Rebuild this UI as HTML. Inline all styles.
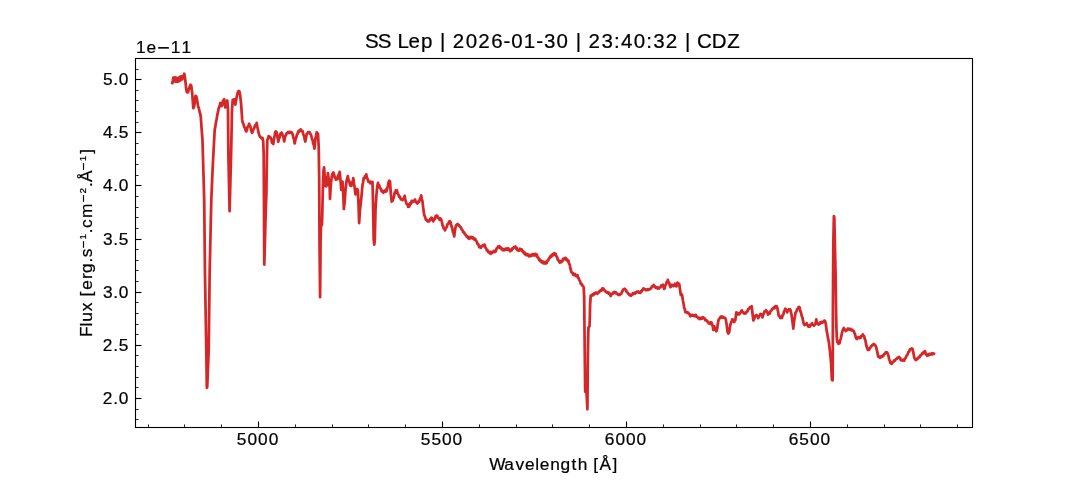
<!DOCTYPE html>
<html lang="en"><head><meta charset="utf-8"><title>SS Lep spectrum</title>
<style>
html,body{margin:0;padding:0;background:#ffffff;}
body{width:1080px;height:480px;overflow:hidden;}
svg{display:block;will-change:transform;}
text{font-family:"Liberation Sans",sans-serif;fill:#000000;stroke:#000000;stroke-width:0.22px;white-space:pre;}
</style></head><body>
<svg width="1080" height="480" viewBox="0 0 1080 480">
<rect x="0" y="0" width="1080" height="480" fill="#ffffff"/>
<!-- spectrum curve -->
<polyline fill="none" stroke="#d62728" stroke-width="2.75" stroke-linejoin="round" stroke-linecap="square" points="172.3,83 172.85,80.55 173.4,77.58 174.1,81.48 174.9,77.45 175.7,81.71 176.5,77.75 177.3,81.75 178.1,78.17 178.9,81.33 179.7,76.79 180.5,80.33 181.3,76.36 182.1,79.44 182.9,75.85 183.6,78.08 184.3,73.75 185.3,80.08 186.3,89.89 186.9,92.28 187.5,92.43 188.1,92.16 188.7,89.4 189.7,86.78 190.5,84.78 191.3,85.91 192.2,93.19 192.75,100.91 193.3,108.24 193.9,107.3 194.5,104.43 195.5,95.89 196.1,96.01 196.7,97.89 197.35,101.52 198,105.88 198.85,108.25 199.7,112.19 200.25,113.8 200.8,117.18 201.7,129.88 202.5,140.06 203.4,171.59 204.2,200.09 205,274.92 205.65,312.56 206.3,349.93 206.8,387.85 207.2,387.25 207.95,368.98 208.7,349.93 209.7,270.08 210.5,234.9 211.3,200.12 211.9,185.76 212.5,171.8 213.1,159.8 213.7,148.07 214.7,129.88 215.37,126.58 216.03,121.98 216.7,118.78 217.37,114.63 218.03,111.88 218.7,108.08 219.5,106.44 220.3,102.99 221,105.8 221.7,106.05 222.35,104.13 223,100.62 223.6,100.98 224.2,99.19 224.75,103.81 225.3,107.44 226.3,103.76 227.3,100.49 228,110.05 228.4,154.95 229,183.22 229.6,211.11 230.4,180.7 231.2,149.92 232,110.05 232.7,99.89 233.45,100.4 234.2,99.31 234.75,102.72 235.3,104.62 236.3,99.36 236.9,95.94 237.5,93.63 238.1,91.47 238.7,91.01 239.35,91.4 240,94.04 240.6,99.11 241.2,105.09 242.2,119.93 242.75,122.69 243.3,123.49 244.15,126.72 245,128.04 245.65,130.63 246.3,131.43 246.9,130.15 247.5,126.8 248.35,126.17 249.2,123.77 249.75,125.85 250.3,126.01 251.15,130.4 252,132.81 252.65,131.91 253.3,129.53 254.15,128.33 255,125.27 255.85,125.24 256.7,122.84 257.35,127.04 258,129.81 258.6,132.89 259.2,134.66 260,136.75 260.8,137.24 261.65,138.3 262.5,137.86 263.2,141.28 263.7,154.9 264.3,264.59 265.05,237.17 265.8,210.07 266.4,193.23 266.8,163.35 267.3,139.95 267.95,138.74 268.6,136.06 269.33,137.4 270.07,136.95 270.8,138.06 271.4,139.66 272,142.87 272.65,142.53 273.3,143.98 274,138.86 274.7,135.43 275.25,132.27 275.8,131.33 276.5,132.21 277.2,135.33 277.75,138.25 278.3,141.76 279,138.61 279.7,137.08 280.25,134.19 280.8,133.15 281.65,132.69 282.5,134.64 283.35,136.97 284.2,141.41 285,137.22 285.8,135.27 286.65,133.35 287.5,132.92 288.12,131.97 288.75,132.79 289.38,132.04 290,132.81 290.85,131.93 291.7,132.44 292.5,133.9 293.3,137.18 294,139.6 294.7,143.47 295.5,139.55 296.3,137.3 296.97,134.63 297.63,133.73 298.3,131.31 298.93,131.89 299.55,130.21 300.18,130.91 300.8,129.44 301.65,131.2 302.5,131.03 303.35,134.53 304.2,136.31 304.75,139.55 305.3,141.54 306,138.12 306.7,133.82 307.37,133.75 308.03,132.19 308.7,132.32 309.5,132.09 310.3,133.84 311.15,135.22 312,138.97 312.65,140.15 313.3,143.89 313.9,145.1 314.5,148.7 315.5,138.25 316.1,135.6 316.7,132.34 317.35,133.93 318,133.75 318.7,146.79 319.2,179.92 319.5,240.1 320.1,297.2 320.6,240.1 321,225.91 321.9,225.05 322.25,214.92 322.7,195.08 323.1,179.95 323.5,170.57 324.1,167.33 324.8,178.06 325.3,185.95 325.8,177.53 326.3,186.26 326.9,177.08 327.4,183.97 327.9,173.06 328.6,178.45 329.1,185.57 329.5,180.92 330,198.97 330.8,184.94 331.7,176.79 332.5,173.72 333.3,172.45 334,173.77 334.7,177.49 335.25,177.31 335.8,179.6 336.65,178.19 337.5,179.22 338.1,175.27 338.7,174.77 339.7,171.83 340.5,180.15 341.3,189.85 341.9,185.98 342.5,181.57 343.3,193.41 343.8,208.99 344.7,201.85 345.5,189.9 346.1,185.12 346.7,179.84 347.25,178.78 347.8,176.14 348.5,179.96 349.2,181.18 350,184.75 350.8,185.97 351.4,185.85 352,182.25 352.65,181.88 353.3,178.16 353.9,183.02 354.5,186.57 355.5,194.35 356.1,191.67 356.7,190.52 357.25,188.98 357.8,190.2 358.5,203.16 359.1,223.07 360,209.9 360.65,204.29 361.3,198.18 361.9,191.76 362.5,184.88 363.1,182.27 363.7,178.07 364.35,178.5 365,176.19 365.65,176.73 366.3,174.31 366.9,178.16 367.5,178.51 368.35,181.55 369.2,181.69 370,183.21 370.8,181.77 371.65,183.39 372.5,181.89 373,201.85 373.7,239.88 374.3,244.53 374.8,239.92 375.5,210.14 376.3,196.58 377.2,186.85 378,182.79 378.6,185.48 379.2,185.21 380,188.19 380.8,188.61 381.65,191.35 382.5,190.95 383.35,192.71 384.2,191.15 385,191.87 385.8,189.77 386.4,191.44 387,189.53 388,185.33 388.6,182.11 389.2,180.76 390,181.31 390.8,193.39 391.7,201.59 392.5,200.87 393.3,198.78 394,196.67 394.7,192.27 395.25,192.95 395.8,190.39 396.4,191.19 397,190.4 397.65,193.87 398.3,194.22 399.15,196.71 400,196.59 400.85,199.33 401.7,199.27 402.5,200.13 403.3,198.55 404,198.34 404.7,195.75 405.25,199.64 405.8,201.36 406.65,204.06 407.5,204.31 408.1,206.86 408.7,206.71 409.35,206.31 410,203.35 410.85,204 411.7,200.86 412.5,202.09 413.3,200.99 414.15,201.36 415,199.56 415.85,202.02 416.7,202.57 417.5,203.51 418.3,201.46 419.15,201.55 420,198.52 420.6,198.15 421.2,195.42 421.85,199.08 422.5,201.46 423.1,206.84 423.7,211.62 424.35,215.54 425,216.56 425.85,219.77 426.7,219.61 427.5,221.37 428.3,221.27 429.15,221.31 430,219.17 430.67,219.77 431.33,217.73 432,218.08 432.65,218.38 433.3,221.35 434.15,218.82 435,218.83 435.65,216.06 436.3,215.59 437.15,215.53 438,217.84 438.85,217.76 439.7,219.88 440.5,218.55 441.3,219.78 441.9,221.92 442.5,225.37 443.1,226.01 443.7,228.62 444.35,228.45 445,230.38 445.85,228.06 446.7,227.03 447.5,224.3 448.3,223.87 449.15,221.49 450,221.25 450.65,222.56 451.3,225.5 452.15,228 453,232.1 453.6,233.37 454.2,236.46 454.75,231.95 455.3,228.36 456,225.61 456.7,224.66 457.5,223.95 458.3,225.25 459.15,225.24 460,226.99 460.85,227.25 461.7,229.45 462.5,230.17 463.3,232.29 464.15,232.39 465,234.45 465.85,234.79 466.7,236.71 467.5,236.41 468.3,238.21 468.9,237.49 469.5,238.78 470.15,236.94 470.8,237.42 471.43,236.84 472.05,237.99 472.68,237.28 473.3,238.63 473.93,238.18 474.55,239.64 475.18,238.86 475.8,240.37 476.65,241.34 477.5,244.01 478.35,244.31 479.2,247.24 480,246.61 480.8,247.81 481.65,245.95 482.5,246.2 483.23,245.03 483.97,246.09 484.7,244.76 485.5,247.64 486.3,248.71 486.97,250.46 487.63,250.38 488.3,252.06 488.93,251.61 489.55,253.08 490.18,251.91 490.8,253.74 491.43,252.06 492.05,252.98 492.68,251.59 493.3,252.06 493.93,250.91 494.55,252.09 495.18,250.68 495.8,251.4 496.65,248.4 497.5,248.11 498.1,246.45 498.7,246.67 499.4,246.24 500.1,247.95 500.8,247.51 501.43,249.01 502.05,248.68 502.68,250.06 503.3,249.29 503.93,250.24 504.55,249.1 505.18,249.7 505.8,248.58 506.43,249.52 507.05,248.52 507.68,249.81 508.3,248.36 508.93,250.16 509.55,249.41 510.18,251.24 510.8,250.42 511.53,250.49 512.27,248.46 513,248.63 513.85,247.12 514.7,247.07 515.37,246.43 516.03,248.58 516.7,247.8 517.5,250.39 518.3,250.32 519.15,250.57 520,248.7 520.85,250.12 521.7,249.39 522.5,251.36 523.3,251.28 523.92,253.41 524.55,252.46 525.17,254.43 525.8,253.63 526.42,255.17 527.05,254.17 527.67,255.38 528.3,254.61 528.97,256.22 529.63,255.24 530.3,256.18 531.03,254.95 531.77,255.74 532.5,254.24 533.23,255.21 533.97,254.2 534.7,255.6 535.5,253.86 536.3,254.33 536.9,254.69 537.5,257.37 538.35,257.62 539.2,260.05 539.83,259.51 540.45,261.3 541.08,260.65 541.7,262.26 542.33,261.45 542.95,263.08 543.58,262.01 544.2,263.34 544.83,262.15 545.45,263.47 546.08,261.93 546.7,263.06 547.5,260.65 548.3,260.38 549.15,257.98 550,257.5 550.62,255.96 551.25,256.8 551.88,255.02 552.5,255.71 553.12,253.93 553.75,254.88 554.38,253.16 555,253.93 555.65,253.85 556.3,256.12 557.15,257.07 558,260.31 558.85,260.62 559.7,262.47 560.37,261.09 561.03,262.37 561.7,260.98 562.37,261.25 563.03,259.02 563.7,259.2 564.4,258.26 565.1,259.29 565.8,257.86 566.42,259.73 567.05,259.36 567.67,261.09 568.3,260.36 569,263.58 569.7,264.4 570.25,267.91 570.8,269.76 571.65,272.54 572.5,272.92 573.12,274.57 573.75,273.77 574.38,275.14 575,274.2 575.62,275.83 576.25,274.89 576.88,276.27 577.5,275.24 578.13,277.94 578.77,278.26 579.4,280.4 580.1,281.1 580.8,284.05 581.65,283.94 582.5,285.72 583.1,285.97 583.7,287.62 584.2,296.89 584.5,330.05 585.2,391.72 586.2,386.32 586.8,397.49 587.4,409.28 587.9,354.95 588.3,331.82 588.5,327.23 589.5,326.46 589.9,314.91 590.1,305.09 590.7,295.68 591.7,295.74 592.5,294.33 593.3,295.03 594,293.53 594.7,294.03 595.4,292.59 596.1,293.28 596.8,292.71 597.5,293.77 598.2,292.34 598.9,292.27 599.6,290.9 600.3,291.08 601,289.9 601.7,290.44 602.3,288.41 602.9,288.17 603.55,288.74 604.2,290.23 604.88,290.29 605.57,291.64 606.25,291.79 606.93,292.63 607.62,292.24 608.3,293.44 608.95,292.68 609.6,293.52 610.15,294.07 610.7,296.07 611.4,294.34 612.1,294.18 612.8,292.96 613.5,293.26 614.2,291.97 615,292.73 615.8,292.19 616.65,293.75 617.5,293.9 618.2,294.91 618.9,294.37 619.6,295.06 620.42,294.02 621.25,293.96 621.88,291.78 622.5,291.17 623.12,289.61 623.75,289.43 624.58,288.66 625.4,289.43 626.05,290.01 626.7,292 627.38,292.26 628.07,293.6 628.75,293.95 629.43,295.03 630.12,294.75 630.8,295.88 631.5,294.62 632.2,294.77 632.9,293.27 633.6,294.04 634.3,293.04 635,293.63 635.62,292.33 636.25,292.69 636.88,291.72 637.5,291.72 638.2,291.49 638.9,292.73 639.6,292.69 640.3,292.84 641,291.23 641.7,291.3 642.3,289.9 642.9,289.82 643.5,288.37 644.27,289.4 645.03,289.26 645.8,290.14 646.42,289.52 647.05,290.1 647.67,289.29 648.3,289.87 648.97,289.11 649.63,289.42 650.3,288.78 651.15,288.27 652,286.32 652.85,286.42 653.7,285.03 654.4,286.45 655.1,286.47 655.8,287.94 656.65,287.29 657.5,288.46 658.23,287.48 658.97,288.43 659.7,287.46 660.5,287.12 661.3,285.4 662.15,285.94 663,284.66 663.6,287.39 664.2,288.92 664.75,288.01 665.3,285.45 666,284.44 666.7,282.26 667.25,281.66 667.8,279.86 668.5,282.25 669.2,282.81 669.85,285.61 670.5,287.08 671.25,286.52 672,284.74 672.85,285.88 673.7,286.05 674.35,285.48 675,283.75 675.65,285.64 676.3,286.36 676.9,285.28 677.5,282.65 678.35,283.82 679.2,283.97 680,289.24 680.8,294.96 681.4,295.34 682,294.58 683,301 683.6,303.86 684.2,307.77 684.75,309.08 685.3,312.04 686.15,311.82 687,312.77 687.85,312.34 688.7,313.42 689.5,314.15 690.3,316.25 691.15,315.05 692,315.56 692.73,314.94 693.47,315.88 694.2,315.48 695,316.18 695.8,314.82 696.65,316.82 697.5,317.03 698.23,318.28 698.97,317.76 699.7,319.03 700.37,317.91 701.03,318.73 701.7,317.61 702.37,318.42 703.03,317.17 703.7,317.95 704.5,318.27 705.3,320.12 706.15,319.8 707,321.28 707.85,321.52 708.7,323.37 709.5,322.73 710.3,323.91 711,322.28 711.7,322.9 712.7,326.15 713.3,329.84 714.3,326.41 715.3,328.98 716.3,331.32 717.2,328.58 717.75,324.48 718.3,320.84 719.15,318.86 720,318.01 720.67,316.65 721.33,317.66 722,316.35 722.73,317.68 723.47,317.07 724.2,317.9 725,317.78 725.8,319.56 726.7,324.89 727.5,331.8 728.3,333.45 729.2,332.28 729.75,328.27 730.3,325.06 731,322.59 731.7,321.08 732.35,319.33 733,319.47 733.6,320.04 734.2,322.04 734.75,320.45 735.3,320.4 736.3,312.41 736.9,313.43 737.5,312.94 738.1,314.45 738.7,314.3 739.35,314.29 740,312.67 740.85,312.25 741.7,310.37 742.5,312.25 743.3,312.24 744.15,313.57 745,312.91 745.85,313.33 746.7,311.74 747.5,311.2 748.3,308.91 749.15,308.93 750,307.19 750.85,307.53 751.7,306.18 752.5,313.35 753.3,320.44 754.3,318.75 755.05,315.98 755.8,315.61 756.4,314.96 757,316.12 757.65,316.29 758.3,318.19 759,315.75 759.7,315.69 760.5,313.89 761.3,314.3 761.9,314.65 762.5,317.39 763.1,314.67 763.7,313.89 764.5,311.44 765.3,311.47 766,310.27 766.7,311.37 767.35,312.12 768,314.52 768.85,313.16 769.7,313.49 770.5,311.1 771.3,310.62 772.15,308.85 773,308.75 773.85,307.43 774.7,308.06 775.5,306.13 776.3,306.07 776.9,306.54 777.5,308.72 778.1,312.01 778.7,315.87 779.5,315.97 780.3,317.99 781.15,316.87 782,317.96 782.65,315.17 783.3,314.75 784,311.6 784.7,310.34 785.25,308.73 785.8,309.31 786.5,309.68 787.2,312.39 787.75,310.48 788.3,310.62 789,309.26 789.7,309.82 790.25,309.53 790.8,311.31 791.5,314.76 792.2,319.38 792.75,323.73 793.3,328.68 794.3,319.92 794.9,316.7 795.5,312.76 796.35,311.63 797.2,309.11 797.87,309.07 798.53,307 799.2,306.92 799.75,307.91 800.3,311.1 801,312.56 801.7,315.84 802.3,317.09 802.9,320.13 803.8,323.81 804.4,324.94 805,324.15 805.85,324.75 806.7,323.18 807.3,325.08 807.9,325.15 808.55,326.73 809.2,326.58 809.8,326.54 810.4,324.7 811.25,324.91 812.1,323.27 812.7,324.82 813.3,324.76 813.95,325.67 814.6,324.95 815.4,324.33 816.25,319.41 817.1,322.98 817.9,323.4 818.55,324.66 819.2,323.92 819.8,323.83 820.4,322.2 821.05,323.03 821.7,322.03 822.3,322.78 822.9,321.81 823.55,321.97 824.2,320.56 825,320.73 825.8,324.02 826.7,330.85 827.3,333.9 827.9,337.65 828.55,340.57 829.2,344.55 830,351.66 831,361.77 831.9,379.93 832.6,380.26 832.8,349.92 832.9,310.08 833.1,274.93 833.4,240.09 833.9,216.15 834.3,217.51 834.8,239.95 835.6,275.08 836.1,311.93 836.4,326.75 836.8,337.46 837.3,342.17 837.9,342.31 838.5,343.82 839.05,342.66 839.6,343.07 840.2,340.03 840.8,338.86 841.8,333.64 842.7,330.32 843.75,327.98 844.38,329.43 845,329.61 845.62,330.97 846.25,330.68 847.1,330.15 847.65,328.58 848.2,329.05 848.9,328.66 849.6,329.63 850.42,329.02 851.25,330.29 852.08,329.62 852.9,330.66 853.55,330.82 854.2,332.34 855.2,334.76 856,338.29 856.55,338.08 857.1,339 857.7,337.63 858.3,337.33 858.95,337.06 859.6,338.17 860.2,337.24 860.8,337.7 861.45,335.69 862.1,335.69 862.9,334.37 863.55,336.07 864.2,336.17 864.8,339.1 865.4,340.2 866.25,345.27 867.1,347.91 867.9,349.92 868.55,349.03 869.2,349.67 869.8,347.8 870.4,347.73 871.05,346.19 871.7,346.2 872.3,344.93 872.9,345.01 873.55,344.01 874.2,344.5 874.8,344.51 875.4,345.63 875.95,346.44 876.5,348.54 877.3,352.15 878.3,356.81 879.15,356.32 880,357.91 880.85,356.54 881.7,357.09 882.5,355.73 883.3,356.07 884.15,354.08 885,353.7 885.85,352.21 886.7,352.31 887.35,352.67 888,354.42 888.6,356.25 889.2,359.79 889.75,360.54 890.3,363.03 891,362.34 891.7,363.82 892.5,362.06 893.3,362.21 894.15,360.41 895,360.51 895.85,359.1 896.7,358.98 897.5,357.61 898.3,357.91 899,356.92 899.7,357.77 900.25,358.15 900.8,360.27 901.65,359.59 902.5,360.73 903.35,359.91 904.2,360.55 905,358.52 905.8,357.83 906.65,355.47 907.5,354.69 908.35,352.11 909.2,351.4 910,349.37 910.8,349.22 911.65,348.39 912.5,348.94 913.3,352.21 914.3,357.77 915.3,359.48 916.15,360.01 917,358.68 917.85,358.75 918.7,357.07 919.5,357.21 920.3,355.38 921.15,355.28 922,353.47 922.85,353.58 923.7,351.94 924.35,352.66 925,351.19 925.65,353.93 926.3,354.57 927.15,355.59 928,354.56 928.67,355.23 929.33,353.94 930,354.57 930.67,353.82 931.33,354.2 932,353.11 932.63,354.27 933.27,353.37 933.9,353.7"/>
<!-- ticks -->
<g stroke="#000000" stroke-width="1.11" fill="none">
<line x1="135.5" y1="398.5" x2="141.5" y2="398.5"/>
<line x1="135.5" y1="345.5" x2="141.5" y2="345.5"/>
<line x1="135.5" y1="292.5" x2="141.5" y2="292.5"/>
<line x1="135.5" y1="239.5" x2="141.5" y2="239.5"/>
<line x1="135.5" y1="185.5" x2="141.5" y2="185.5"/>
<line x1="135.5" y1="132.5" x2="141.5" y2="132.5"/>
<line x1="135.5" y1="79.5" x2="141.5" y2="79.5"/>
<line x1="258.5" y1="427.5" x2="258.5" y2="421.5"/>
<line x1="442.5" y1="427.5" x2="442.5" y2="421.5"/>
<line x1="626.5" y1="427.5" x2="626.5" y2="421.5"/>
<line x1="810.5" y1="427.5" x2="810.5" y2="421.5"/>
</g>
<g stroke="#000000" stroke-width="0.83" fill="none">
<line x1="135.5" y1="419.5" x2="138.6" y2="419.5"/>
<line x1="135.5" y1="409.5" x2="138.6" y2="409.5"/>
<line x1="135.5" y1="387.5" x2="138.6" y2="387.5"/>
<line x1="135.5" y1="377.5" x2="138.6" y2="377.5"/>
<line x1="135.5" y1="366.5" x2="138.6" y2="366.5"/>
<line x1="135.5" y1="355.5" x2="138.6" y2="355.5"/>
<line x1="135.5" y1="334.5" x2="138.6" y2="334.5"/>
<line x1="135.5" y1="324.5" x2="138.6" y2="324.5"/>
<line x1="135.5" y1="313.5" x2="138.6" y2="313.5"/>
<line x1="135.5" y1="302.5" x2="138.6" y2="302.5"/>
<line x1="135.5" y1="281.5" x2="138.6" y2="281.5"/>
<line x1="135.5" y1="270.5" x2="138.6" y2="270.5"/>
<line x1="135.5" y1="260.5" x2="138.6" y2="260.5"/>
<line x1="135.5" y1="249.5" x2="138.6" y2="249.5"/>
<line x1="135.5" y1="228.5" x2="138.6" y2="228.5"/>
<line x1="135.5" y1="217.5" x2="138.6" y2="217.5"/>
<line x1="135.5" y1="207.5" x2="138.6" y2="207.5"/>
<line x1="135.5" y1="196.5" x2="138.6" y2="196.5"/>
<line x1="135.5" y1="175.5" x2="138.6" y2="175.5"/>
<line x1="135.5" y1="164.5" x2="138.6" y2="164.5"/>
<line x1="135.5" y1="154.5" x2="138.6" y2="154.5"/>
<line x1="135.5" y1="143.5" x2="138.6" y2="143.5"/>
<line x1="135.5" y1="122.5" x2="138.6" y2="122.5"/>
<line x1="135.5" y1="111.5" x2="138.6" y2="111.5"/>
<line x1="135.5" y1="100.5" x2="138.6" y2="100.5"/>
<line x1="135.5" y1="90.5" x2="138.6" y2="90.5"/>
<line x1="135.5" y1="69.5" x2="138.6" y2="69.5"/>
<line x1="148.5" y1="427.5" x2="148.5" y2="424.4"/>
<line x1="184.5" y1="427.5" x2="184.5" y2="424.4"/>
<line x1="221.5" y1="427.5" x2="221.5" y2="424.4"/>
<line x1="295.5" y1="427.5" x2="295.5" y2="424.4"/>
<line x1="332.5" y1="427.5" x2="332.5" y2="424.4"/>
<line x1="368.5" y1="427.5" x2="368.5" y2="424.4"/>
<line x1="405.5" y1="427.5" x2="405.5" y2="424.4"/>
<line x1="479.5" y1="427.5" x2="479.5" y2="424.4"/>
<line x1="516.5" y1="427.5" x2="516.5" y2="424.4"/>
<line x1="552.5" y1="427.5" x2="552.5" y2="424.4"/>
<line x1="589.5" y1="427.5" x2="589.5" y2="424.4"/>
<line x1="663.5" y1="427.5" x2="663.5" y2="424.4"/>
<line x1="700.5" y1="427.5" x2="700.5" y2="424.4"/>
<line x1="736.5" y1="427.5" x2="736.5" y2="424.4"/>
<line x1="773.5" y1="427.5" x2="773.5" y2="424.4"/>
<line x1="847.5" y1="427.5" x2="847.5" y2="424.4"/>
<line x1="884.5" y1="427.5" x2="884.5" y2="424.4"/>
<line x1="920.5" y1="427.5" x2="920.5" y2="424.4"/>
<line x1="957.5" y1="427.5" x2="957.5" y2="424.4"/>
</g>
<!-- axes frame -->
<rect x="135.5" y="58.5" width="837" height="369" fill="none" stroke="#000000" stroke-width="1.11" stroke-linejoin="miter"/>
<!-- labels -->
<text font-size="20.5" x="365.1 377.8 390.87 397.53 408.49 421.08 433 440.06 446.09 452.84 465.83 478.29 491.28 503.54 511.22 523.85 536.21 543.91 556.61 568.68 575.74 581.78 588.53 601.54 614.11 620.98 633.7 646.3 653.19 665.63 677.96 685.02 691.05 696.88 711.71 727.36" y="48">SS Lep | 2026-01-30 | 23:40:32 | CDZ</text>
<text font-size="17.3" x="136.07 146.6 157.18 170.81 181.38" y="53 53 54.92 53 53">1e<tspan font-size="21.47">−</tspan>11</text>
<text font-size="17.3" x="236.84 247.48 258.06 268.63" y="444.8">5000</text>
<text font-size="17.3" x="420.81 431.39 442.03 452.61" y="444.8">5500</text>
<text font-size="17.3" x="604.85 615.43 626.01 636.58" y="444.8">6000</text>
<text font-size="17.3" x="788.83 799.34 809.98 820.56" y="444.8">6500</text>
<text font-size="17.3" x="102.73 113.28 118.81" y="403.9">2.0</text>
<text font-size="17.3" x="102.73 113.28 118.75" y="350.9">2.5</text>
<text font-size="17.3" x="102.97 113.28 118.81" y="297.9">3.0</text>
<text font-size="17.3" x="102.97 113.28 118.75" y="244.9">3.5</text>
<text font-size="17.3" x="102.95 113.28 118.81" y="190.9">4.0</text>
<text font-size="17.3" x="102.95 113.28 118.75" y="137.9">4.5</text>
<text font-size="17.3" x="102.89 113.28 118.81" y="84.9">5.0</text>
<text font-size="17.3" x="489.22 504.26 515.38 524.96 535.23 539.81 550.19 560.6 571.6 577.78 587.83 593.32 599.53 612.47" y="470.1">Wavelength [Å]</text>
<g transform="translate(92.2,336.44) rotate(-90)">
<text font-size="17.3" x="-0.52 9.96 14.62 25.29 34.56 40.05 46.68 57.43 63.52 73.93 79.11 88.09 96.98 103.32 108.42 118.46 134.15 142.91 149.38 154.35 166.25 175.13 182.73" y="0 0 0 0 0 0 0 0 0 0 0 -3.87 -5.74 0 0 0 -3.87 -5.74 0 0 -3.87 -5.74 0">Flux [erg.s<tspan font-size="13.52">−</tspan><tspan font-size="9.88">1</tspan>.cm<tspan font-size="13.52">−</tspan><tspan font-size="9.93">2</tspan>.Å<tspan font-size="13.52">−</tspan><tspan font-size="9.88">1</tspan>]</text>
</g>
</svg>
</body></html>
